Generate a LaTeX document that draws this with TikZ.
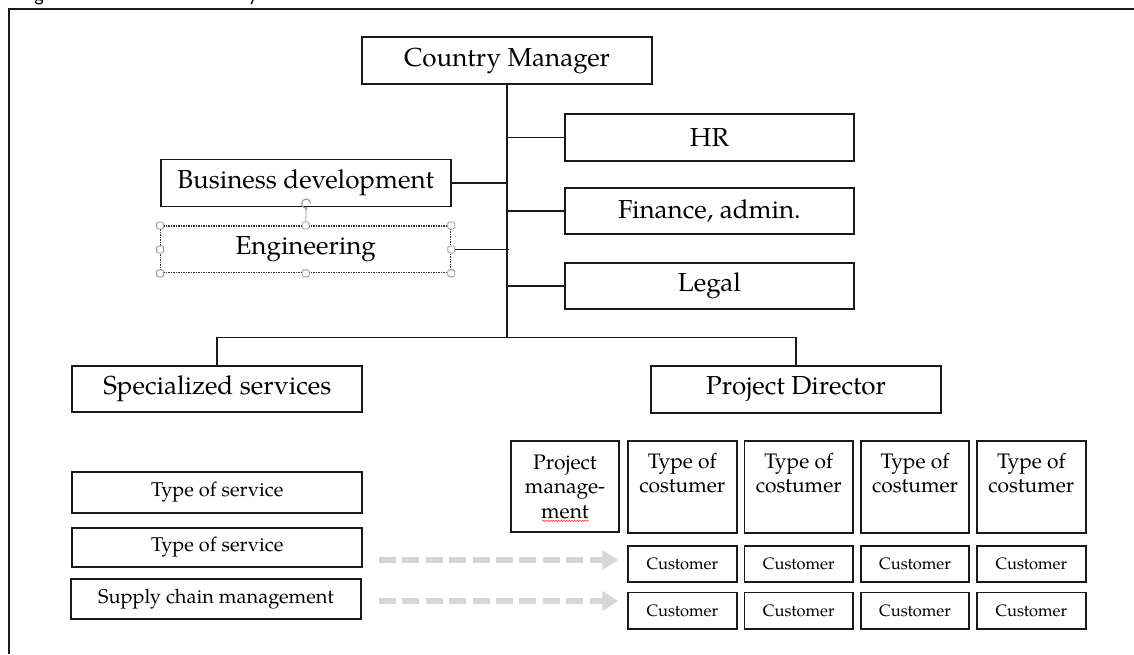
\documentclass[tikz,border=0pt]{standalone}
\usepackage{fontspec}
\setmainfont{TeX Gyre Pagella}
\newfontfamily\capfont{Carlito}
\usetikzlibrary{arrows.meta,decorations.pathmorphing}

\begin{document}
\begin{tikzpicture}[x=1pt,y=-1pt,
  box/.style={draw=black!90, line width=1.8pt, inner sep=0pt, align=center},
  big/.style={font=\fontsize{26}{30}\selectfont},
  mid/.style={font=\fontsize{20}{24}\selectfont},
  col/.style={font=\fontsize{21}{24.5}\selectfont, align=center, inner sep=0pt},
  small/.style={font=\fontsize{16.5}{20}\selectfont},
  link/.style={draw=black!90, line width=1.8pt},
  handle/.style={draw=black!40, fill=white, rounded corners=1.5pt, minimum size=7pt, inner sep=0pt, line width=0.8pt},
  feed/.style={draw=black!16, line width=6pt, dash pattern=on 17pt off 6.4pt, -{Triangle[length=16pt,width=19pt]}}
]
\useasboundingbox (0,0) rectangle (1134,654);

% caption line above the frame, cut at the page edge
\begin{scope}
  \clip (0,0) rectangle (1134,7);
  \node[font=\capfont\fontsize{20}{24}\selectfont, anchor=base, inner sep=0pt] (capg) at (39,1) {g};
  \node[font=\capfont\fontsize{20}{24}\selectfont, anchor=base, inner sep=0pt] (capy) at (253,1) {y};
\end{scope}

% frame
\draw[line width=2.5pt, black!90] (9,654) -- (9,9) -- (1134,9);

% top management
\node[box, big, minimum width=290pt, minimum height=47pt] (cm) at (507,60.5) {Country Manager};
\node[box, big, minimum width=289pt, minimum height=47pt] (hr) at (709.4,137.4) {HR};
\node[box, big, minimum width=289pt, minimum height=46pt] (fin) at (709.4,211) {Finance, admin.};
\node[box, big, minimum width=289pt, minimum height=46pt] (legal) at (709.4,286) {Legal};
\node[box, big, minimum width=290pt, minimum height=47pt] (bd) at (305.7,183) {Business development};
\node[draw=black!80, line width=1.2pt, dash pattern=on 1.6pt off 0.9pt, inner sep=0pt, big,
      minimum width=290pt, minimum height=46.7pt] (eng) at (305.7,249.4) {Engineering};

% selection handles round the engineering box
\node[handle] (h1) at (eng.north west) {};
\node[handle] (h2) at (eng.north) {};
\node[handle] (h3) at (eng.north east) {};
\node[handle] (h4) at (eng.west) {};
\node[handle] (h5) at (eng.east) {};
\node[handle] (h6) at (eng.south west) {};
\node[handle] (h7) at (eng.south) {};
\node[handle] (h8) at (eng.south east) {};
\coordinate (rot) at (306.2,203.5);
\draw[black!40, line width=0.8pt] (h2.north) -- ([yshift=-4.5pt]rot);
\draw[black!40, line width=1.1pt, -{Stealth[length=3pt,width=3.5pt]}] ([xshift=4.5pt]rot) arc[start angle=0, end angle=290, radius=4.5pt];

% second level
\node[box, big, minimum width=290pt, minimum height=46pt] (ss) at (217.3,388.7) {Specialized services};
\node[box, big, minimum width=290pt, minimum height=47pt] (pd) at (796,389.2) {Project Director};

% connectors from the country manager
\coordinate (bar) at (507,337.5);
\draw[link] (cm.south) -- (cm.south |- bar);
\draw[link] (hr.west) -- (hr.west -| cm.south);
\draw[link] (fin.west) -- (fin.west -| cm.south);
\draw[link] (legal.west) -- (legal.west -| cm.south);
\draw[link] (bd.east) -- (bd.east -| cm.south);
\draw[link] (h5.east) -- ([xshift=2pt]h5.east -| cm.south);
\draw[link] (ss.north) |- (bar) -| (pd.north);

% specialized services
\node[box, mid, minimum width=290pt, minimum height=40.4pt] (ts1) at (217.3,492.5) {Type of service};
\node[box, mid, minimum width=290pt, minimum height=39.3pt] (ts2) at (217.3,547.4) {Type of service};
\node[box, mid, minimum width=290pt, minimum height=40pt] (scm) at (216,599.3) {Supply chain management};

% project director columns
\node[box, col, minimum width=108.6pt, minimum height=91.3pt] (pm) at (565,486.7) {Project\\manage-\\ment};
\draw[red!75, line width=0.6pt, decorate, decoration={snake, amplitude=0.7pt, segment length=2.6pt}]
  (542.5,520.8) -- (589,520.8);

\foreach \i/\cx in {1/682.3, 2/798.7, 3/915, 4/1031.3}{
  \node[box, minimum width=108.6pt, minimum height=91.3pt] (t\i) at (\cx,487) {};
  \node[col, anchor=north] (t\i txt) at ([yshift=-12.5pt]t\i.north) {Type of\\costumer};
  \node[box, small, minimum width=108.6pt, minimum height=36pt] (c\i a) at (\cx,563.7) {Customer};
  \node[box, small, minimum width=108.6pt, minimum height=36.7pt] (c\i b) at (\cx,610.8) {Customer};
}

% service flows towards customers
\coordinate (f1s) at (379,560);
\coordinate (f1e) at (618.3,560);
\coordinate (f2s) at (379,601);
\coordinate (f2e) at (618.3,601);
\draw[feed] (f1s) -- (f1e);
\draw[feed] (f2s) -- (f2e);

\end{tikzpicture}
\end{document}
